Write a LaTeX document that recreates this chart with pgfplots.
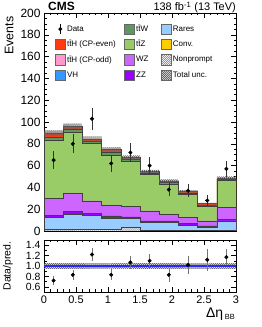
\documentclass[border=0pt]{standalone}
\usepackage{fontspec}
\setmainfont{Liberation Sans}
\usepackage{pgfplots}
\pgfplotsset{compat=1.18}
\usetikzlibrary{patterns,patterns.meta}
\definecolor{cttHe}{RGB}{255,58,16}
\definecolor{cttHo}{RGB}{255,153,204}
\definecolor{cVH}{RGB}{51,153,255}
\definecolor{cttW}{RGB}{96,150,96}
\definecolor{cttZ}{RGB}{153,204,102}
\definecolor{cWZ}{RGB}{204,102,255}
\definecolor{cZZ}{RGB}{153,0,255}
\definecolor{cRares}{RGB}{153,204,255}
\definecolor{cConv}{RGB}{255,204,0}
\definecolor{cline}{RGB}{40,40,255}
\pgfplotsset{
  boxleg/.style={legend image code/.code={\draw[##1] (0bp,-5.2bp) rectangle (10bp,5.2bp);}},
  cmsaxis/.style={
    scale only axis, width=192bp, xmin=0, xmax=3,
    tick align=inside, major tick length=5bp, minor tick length=2.5bp,
    every tick/.style={black, line width=0.5bp},
    axis line style={line width=0.8bp},
    /pgf/number format/assume math mode=true,
    xtick={0,0.5,...,3}, minor x tick num=4,
  },
  stk/.style={const plot, draw=black!75, line width=0.6bp, forget plot},
}
\begin{document}
\begin{tikzpicture}
\useasboundingbox (0,0) rectangle (262bp,327bp);
\begin{axis}[cmsaxis,
  at={(44bp,96bp)}, anchor=south west, height=218bp,
  ymin=0, ymax=200, ytick={0,20,...,200}, minor y tick num=3,
  xticklabels={},
  yticklabel style={font=\fontsize{12}{12}\selectfont},
  ylabel={Events},
  ylabel style={font=\fontsize{12.5}{12.5}\selectfont, at={(axis description cs:-0.182,1)}, anchor=east},
  legend columns=3, legend cell align=left,
  legend style={at={(axis description cs:0.057,0.952)}, anchor=north west, draw=none, fill=none,
    font=\fontsize{8}{9}\selectfont, row sep=4.6bp, inner sep=0pt,
    nodes={inner sep=1.5bp},
    /tikz/column 2/.style={column sep=7bp}, /tikz/column 4/.style={column sep=11bp}},
]
% legend
\addlegendimage{legend image code/.code={\draw[black, line width=0.6bp] (5bp,-5bp) -- (5bp,5bp); \fill[black] (5bp,0bp) circle (1.8bp);}}
\addlegendentry{Data}
\addlegendimage{boxleg, fill=cttW, draw=black!60}
\addlegendentry{t\={t}W}
\addlegendimage{boxleg, fill=cRares, draw=black!60}
\addlegendentry{Rares}
\addlegendimage{boxleg, fill=cttHe, draw=black!60}
\addlegendentry{t\={t}H (CP-even)}
\addlegendimage{boxleg, fill=cttZ, draw=black!60}
\addlegendentry{t\={t}Z}
\addlegendimage{boxleg, fill=cConv, draw=black!60}
\addlegendentry{Conv.}
\addlegendimage{boxleg, fill=cttHo, draw=black!60}
\addlegendentry{t\={t}H (CP-odd)}
\addlegendimage{boxleg, fill=cWZ, draw=black!60}
\addlegendentry{WZ}
\addlegendimage{boxleg, fill=white, draw=black!60, postaction={pattern={Lines[angle=45,distance=1.4bp,line width=0.35bp]}, pattern color=black!60}}
\addlegendentry{Nonprompt}
\addlegendimage{boxleg, fill=cVH, draw=black!60}
\addlegendentry{VH}
\addlegendimage{boxleg, fill=cZZ, draw=black!60}
\addlegendentry{ZZ}
\addlegendimage{boxleg, draw=black!60, pattern={Hatch[angle=45,distance=1.4bp,line width=0.35bp]}, pattern color=black!60}
\addlegendentry{Total unc.}
% stacked histograms (cumulative tops, drawn from the top down)
\addplot[stk, fill=cttHe] coordinates {(0,90)(0.3,96)(0.6,84.5)(0.9,75)(1.2,67.5)(1.5,54.5)(1.8,46)(2.1,36.3)(2.4,25)(2.7,48.7)(3,48.7)} \closedcycle;
\addplot[stk, fill=cttW] coordinates {(0,86)(0.3,93)(0.6,82)(0.9,72)(1.2,65.5)(1.5,53.2)(1.8,44.5)(2.1,35)(2.4,24)(2.7,47.7)(3,47.7)} \closedcycle;
\addplot[stk, fill=cttZ] coordinates {(0,83)(0.3,90.4)(0.6,80)(0.9,69.7)(1.2,63.6)(1.5,52)(1.8,43)(2.1,33.8)(2.4,23)(2.7,46.7)(3,46.7)} \closedcycle;
\addplot[stk, fill=cWZ] coordinates {(0,30)(0.3,34.4)(0.6,27.6)(0.9,23.7)(1.2,22.4)(1.5,18.4)(1.8,15.4)(2.1,12.3)(2.4,9.2)(2.7,22)(3,22)} \closedcycle;
\addplot[stk, fill=cZZ] coordinates {(0,14.5)(0.3,17.8)(0.6,16.3)(0.9,13.8)(1.2,13)(1.5,9.2)(1.8,9.2)(2.1,6.8)(2.4,4.6)(2.7,10.8)(3,10.8)} \closedcycle;
\addplot[stk, fill=cRares] coordinates {(0,12.5)(0.3,15.4)(0.6,14.5)(0.9,11.7)(1.2,11.5)(1.5,8)(1.8,8)(2.1,5.2)(2.4,3)(2.7,9.2)(3,9.2)} \closedcycle;
\addplot[stk, fill=white, postaction={pattern={Lines[angle=45,distance=1.4bp,line width=0.35bp]}, pattern color=black!60}] coordinates {(0,1.5)(0.3,2)(0.6,2)(0.9,1.5)(1.2,3.5)(1.5,1)(1.8,1)(2.1,0.8)(2.4,0.5)(2.7,1)(3,1)} \closedcycle;
% total uncertainty band
\addplot[draw=none, forget plot, pattern={Hatch[angle=45,distance=1.4bp,line width=0.35bp]}, pattern color=black!60] coordinates {
(0,92.3)(0.3,92.3)(0.3,98.5)(0.6,98.5)(0.6,86.7)(0.9,86.7)(0.9,77)(1.2,77)(1.2,69.3)(1.5,69.3)(1.5,56)(1.8,56)(1.8,47.3)(2.1,47.3)(2.1,37.4)(2.4,37.4)(2.4,25.9)(2.7,25.9)(2.7,50.1)(3,50.1)
(3,47.3)(2.7,47.3)(2.7,24.1)(2.4,24.1)(2.4,35.2)(2.1,35.2)(2.1,44.7)(1.8,44.7)(1.8,53)(1.5,53)(1.5,65.7)(1.2,65.7)(1.2,73)(0.9,73)(0.9,82.3)(0.6,82.3)(0.6,93.5)(0.3,93.5)(0.3,87.7)(0,87.7)};
% data
\addplot[forget plot, only marks, mark=*, mark size=1.8bp, black,
  error bars/.cd, y dir=both, y explicit, error mark=none, error bar style={line width=0.6bp, black!80}]
  coordinates {(0.15,65)+-(0,8.1) (0.45,80)+-(0,8.9) (0.75,103)+-(0,10.1) (1.05,62)+-(0,7.9) (1.35,72)+-(0,8.5) (1.65,60)+-(0,7.7) (1.95,38)+-(0,6.2) (2.25,37)+-(0,6.1) (2.55,28)+-(0,5.3) (2.85,57)+-(0,7.5)};
\end{axis}
\begin{axis}[cmsaxis,
  at={(44bp,35bp)}, anchor=south west, height=52bp,
  ymin=0.5, ymax=1.5, ytick={0.6,0.8,1.0,1.2,1.4}, minor y tick num=1,
  yticklabel style={font=\fontsize{10.5}{10.5}\selectfont, /pgf/number format/.cd, fixed, fixed zerofill, precision=1},
  xticklabel style={font=\fontsize{11}{11}\selectfont},
  ylabel={Data/pred.},
  ylabel style={font=\fontsize{10.5}{10.5}\selectfont, at={(axis description cs:-0.188,0.5)}, anchor=center},
  xlabel={{\fontsize{14}{14}\selectfont Δη}\,\raisebox{-0.55ex}{\fontsize{7.5}{7.5}\selectfont BB}},
  xlabel style={at={(axis description cs:1,0)}, anchor=base east, yshift=-25bp, xshift=-1bp, inner sep=0pt},
]
\addplot[draw=none, pattern={Hatch[angle=45,distance=1.4bp,line width=0.35bp]}, pattern color=black!60] coordinates {(0,0.955)(3,0.955)(3,1.045)(0,1.045)};
\addplot[cline, line width=1.5bp] coordinates {(0,1)(3,1)};
\addplot[only marks, mark=*, mark size=1.8bp, black,
  error bars/.cd, y dir=both, y explicit, error mark=none, error bar style={line width=0.6bp, black!55}]
  coordinates {(0.15,0.72)+-(0,0.09) (0.45,0.83)+-(0,0.093) (0.75,1.22)+-(0,0.12) (1.05,0.83)+-(0,0.105) (1.35,1.07)+-(0,0.126) (1.65,1.10)+-(0,0.14) (1.95,0.83)+-(0,0.135) (2.25,1.02)+-(0,0.17) (2.55,1.12)+-(0,0.21) (2.85,1.17)+-(0,0.154)};
\end{axis}
\node[anchor=base west, inner sep=0pt, font=\fontsize{12}{12}\selectfont\bfseries] at (48bp,316bp) {CMS};
\node[anchor=base east, inner sep=0pt, font=\fontsize{11}{11}\selectfont] at (236bp,316bp) {138 fb\textsuperscript{-1} (13 TeV)};
\end{tikzpicture}
\end{document}
